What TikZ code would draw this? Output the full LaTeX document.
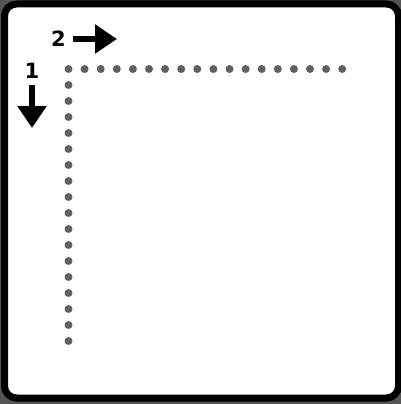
\documentclass[tikz,border=0pt]{standalone}
\usepackage{fontspec}
\setmainfont{DejaVu Sans}
\usepackage{tikz}
\usetikzlibrary{arrows.meta,calc}
\definecolor{dotgray}{HTML}{606060}
\definecolor{edgegray}{HTML}{555555}
\tikzset{
  dot/.style={circle, fill=dotgray, inner sep=0pt, minimum size=8pt},
  steplabel/.style={font=\fontsize{21}{21}\selectfont\bfseries, inner sep=0pt},
  bigarrow/.style={line width=6pt, -{Triangle[length=22pt,width=28pt]}}
}
\begin{document}
\begin{tikzpicture}[x=1pt,y=-1pt]
\useasboundingbox (0,0) rectangle (401,404);
\fill [edgegray] (0,0) rectangle (401,404);
\draw [black, line width=7pt, fill=white, rounded corners=12pt] (4.5,4) rectangle (398.5,398);

% dots along the top and down the left
\foreach \i in {0,...,17}
  \node [dot] (top\i) at (68.5+16.1*\i,69) {};
\foreach \i in {1,...,17}
  \node [dot] (left\i) at (68.5,69+16*\i) {};

% step labels and arrows
\node [steplabel] (two) at (58.5,38.5) {2};
\coordinate (twoS) at (73,39);
\coordinate (twoE) at (117,39);
\draw [bigarrow] (twoS) -- (twoE);

\node [steplabel] (one) at (32,70.5) {1};
\coordinate (oneS) at (32,85);
\coordinate (oneE) at (32,128);
\draw [bigarrow] (oneS) -- (oneE);

\end{tikzpicture}
\end{document}
